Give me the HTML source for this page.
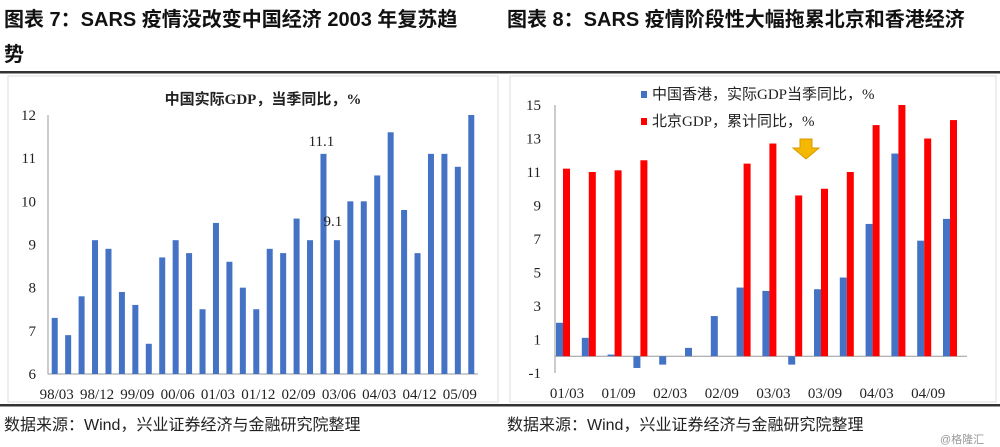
<!DOCTYPE html>
<html><head><meta charset="utf-8">
<style>
body{margin:0;width:1000px;height:447px;background:#fff;overflow:hidden;font-family:"Liberation Serif","Noto Serif CJK SC",serif;}
svg{display:block}
.t{font-family:"Liberation Sans","Noto Sans CJK SC",sans-serif;font-weight:bold;font-size:20px;fill:#111}
.ax{font-family:"Liberation Serif","Noto Serif CJK SC",serif;font-size:15px;fill:#222}
.lg{font-family:"Liberation Serif","Noto Sans CJK SC",sans-serif;font-size:15px;fill:#222}
.ft{font-family:"Liberation Sans","Noto Sans CJK SC",sans-serif;font-size:16px;fill:#222}
</style></head><body>
<svg id="s" width="1000" height="447">
<text class="t" x="4" y="26">图表 7：SARS 疫情没改变中国经济 2003 年复苏趋</text>
<text class="t" x="4" y="61">势</text>
<text class="t" x="507" y="26">图表 8：SARS 疫情阶段性大幅拖累北京和香港经济</text>
<rect x="0" y="71" width="1000" height="2.5" fill="#333"/>
<rect x="8" y="76" width="490" height="326" fill="none" stroke="#ddd"/>
<rect x="510" y="76" width="486" height="326" fill="none" stroke="#ddd"/>
<rect x="0" y="404" width="1000" height="2.5" fill="#333"/>
<text class="ft" x="4" y="430">数据来源：Wind，兴业证券经济与金融研究院整理</text>
<text class="ft" x="507" y="430">数据来源：Wind，兴业证券经济与金融研究院整理</text>
<text x="940" y="443" font-size="11" fill="#999" font-family="Liberation Sans,Noto Sans CJK SC,sans-serif">@格隆汇</text>
<g id="L"></g><g id="R"></g>
</svg>
<script>
const NS="http://www.w3.org/2000/svg";
function mk(p,tag,a,txt){const e=document.createElementNS(NS,tag);for(const k in a)e.setAttribute(k,a[k]);if(txt!=null)e.textContent=txt;p.appendChild(e);return e;}
// Left chart data
const leftCats=["98/03","98/06","98/09","98/12","99/03","99/06","99/09","99/12","00/03","00/06","00/09","00/12","01/03","01/06","01/09","01/12","02/03","02/06","02/09","02/12","03/03","03/06","03/09","03/12","04/03","04/06","04/09","04/12","05/03","05/06","05/09","05/12"];
const leftVals=[7.3,6.9,7.8,9.1,8.9,7.9,7.6,6.7,8.7,9.1,8.8,7.5,9.5,8.6,8.0,7.5,8.9,8.8,9.6,9.1,11.1,9.1,10.0,10.0,10.6,11.6,9.8,8.8,11.1,11.1,10.8,12.0];
const leftTicks=[6,7,8,9,10,11,12];
const leftLabels=["98/03","98/12","99/09","00/06","01/03","01/12","02/09","03/06","04/03","04/12","05/09"];
// Right chart data
const rightCats=["01/03","01/06","01/09","01/12","02/03","02/06","02/09","02/12","03/03","03/06","03/09","03/12","04/03","04/06","04/09","04/12"];
const hkVals=[2.0,1.1,0.1,-0.7,-0.5,0.5,2.4,4.1,3.9,-0.5,4.0,4.7,7.9,12.1,6.9,8.2];
const bjVals=[11.2,11.0,11.1,11.7,null,null,null,11.5,12.7,9.6,10.0,11.0,13.8,15.0,13.0,14.1];
const rightTicks=[-1,1,3,5,7,9,11,13,15];
const rightLabels=["01/03","01/09","02/03","02/09","03/03","03/09","04/03","04/09"];

// Left
(function(){
const g=document.getElementById('L');
const x0=48,x1=478,yb=374,yt=115,mn=6,mx=12;
const y=v=>yb-(v-mn)/(mx-mn)*(yb-yt);
const step=(x1-x0)/leftCats.length;
const xc=i=>x0+step*(i+0.5);
const t=mk(g,'text',{x:263,y:104,'text-anchor':'middle',class:'lg','font-weight':'bold','font-size':'15'},'中国实际GDP，当季同比，%');


const ax=mk(g,'path',{d:`M${x0} ${yt}V${yb}H${x1}`,stroke:'#999',fill:'none'});


leftTicks.forEach(v=>{const e=mk(g,'text',{x:36,y:y(v)+5,'text-anchor':'end',class:'ax','font-size':'16'},String(v));

});
leftVals.forEach((v,i)=>{const r=mk(g,'rect',{x:xc(i)-3,y:y(v),width:6,height:yb-y(v),fill:'#4472C4'});

});
leftLabels.forEach(l=>{const i=leftCats.indexOf(l);const e=mk(g,'text',{x:xc(i)+2,y:399,'text-anchor':'middle',class:'ax','font-size':'16.5'},l);

});
[[20,'11.1',-2,-8],[21,'9.1',-4,-14]].forEach(([i,s,dx,dy])=>{const e=mk(g,'text',{x:xc(i)+dx,y:y(leftVals[i])+dy,'text-anchor':'middle',class:'ax','font-size':'15'},s);

});
})();
// Right
(function(){
const g=document.getElementById('R');
const x0=555,x1=967,yb=373,yt=105,mn=-1,mx=15;
const y=v=>yb-(v-mn)/(mx-mn)*(yb-yt);
const step=25.8;
const xc=i=>567+step*i;
const ax=mk(g,'path',{d:`M${x0} ${yt}V${yb}M${x0} ${y(0)}H${x1}`,stroke:'#999',fill:'none'});


rightTicks.forEach(v=>{const e=mk(g,'text',{x:541,y:y(v)+5,'text-anchor':'end',class:'ax','font-size':'15'},String(v));

});
hkVals.forEach((v,i)=>{const a=y(Math.max(v,0)),b=y(Math.min(v,0));const r=mk(g,'rect',{x:xc(i)-11,y:a,width:7,height:b-a,fill:'#4472C4'});

});
bjVals.forEach((v,i)=>{if(v==null)return;const r=mk(g,'rect',{x:xc(i)-4,y:y(v),width:7,height:y(0)-y(v),fill:'#FF0000'});

});
rightLabels.forEach(l=>{const i=rightCats.indexOf(l);const e=mk(g,'text',{x:xc(i),y:398,'text-anchor':'middle',class:'ax','font-size':'15'},l);

});
const l1=mk(g,'rect',{x:641,y:91,width:6,height:7,fill:'#4472C4'});


const t1=mk(g,'text',{x:652,y:99,class:'lg'},'中国香港，实际GDP当季同比，%');


const l2=mk(g,'rect',{x:641,y:118,width:6,height:7,fill:'#FF0000'});


const t2=mk(g,'text',{x:652,y:126,class:'lg'},'北京GDP，累计同比，%');


const ar=mk(g,'path',{d:'M800 139H812V148H819L806 159L793 148H800Z',fill:'#F5B800',stroke:'#D99A00'});


})();
</script>
</body></html>
